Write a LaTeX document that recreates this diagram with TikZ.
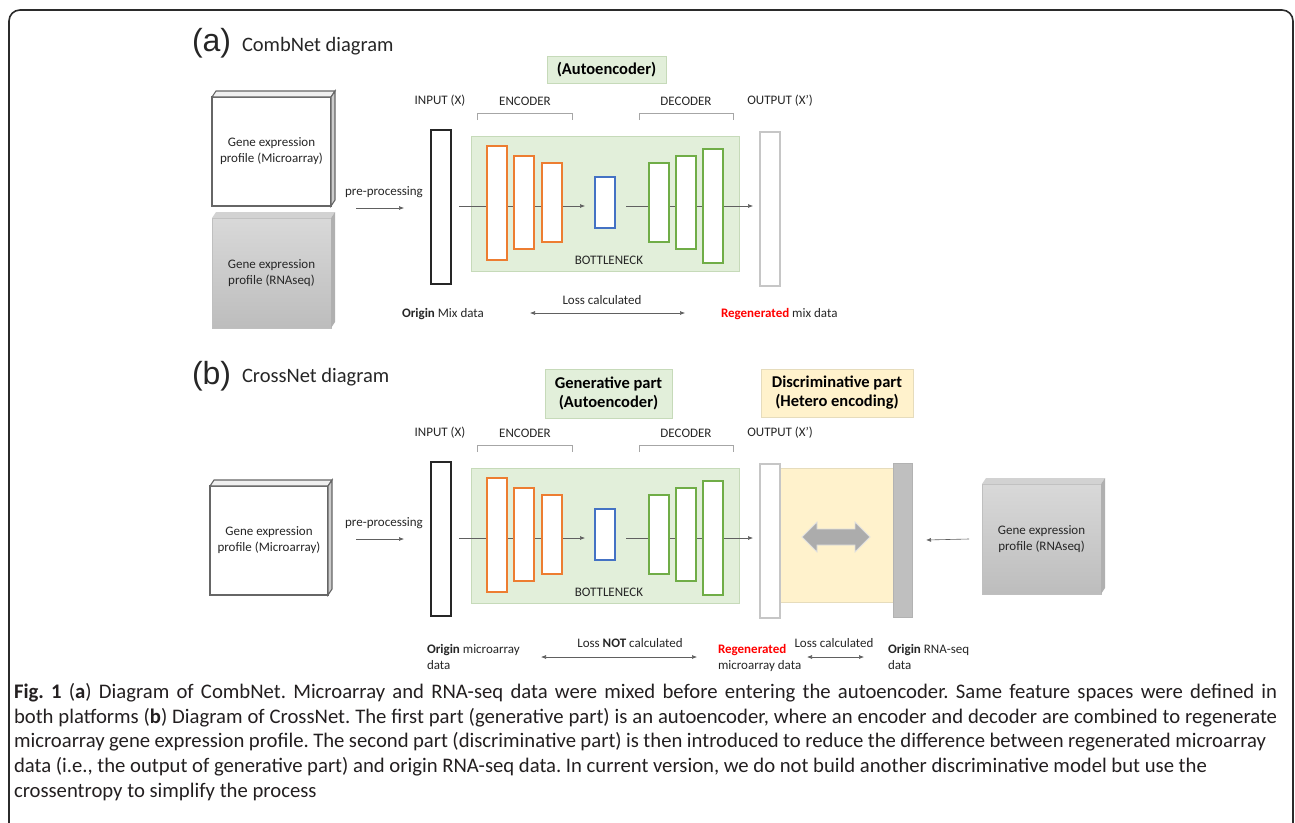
\documentclass[tikz,border=0pt]{standalone}
\usepackage{fontspec}
\setmainfont{Carlito}
\newfontfamily\arialf{Liberation Sans}
\usetikzlibrary{arrows.meta}
\pgfdeclarelayer{bg}\pgfdeclarelayer{mid}\pgfsetlayers{bg,mid,main}
\definecolor{aegreen}{HTML}{E2EFDA}
\definecolor{aegreenb}{HTML}{C6DAB9}
\definecolor{encor}{HTML}{ED7D31}
\definecolor{bnblue}{HTML}{4472C4}
\definecolor{decgr}{HTML}{70AD47}
\definecolor{yel}{HTML}{FFF2CC}
\definecolor{yelb}{HTML}{E6DCBC}
\definecolor{txt}{HTML}{262626}
\definecolor{regred}{HTML}{FF0000}
\definecolor{captxt}{HTML}{231F20}
\definecolor{framec}{HTML}{2B2B2B}
\frenchspacing
\newcommand\aeblock[2]{%
  \node[lbl] (#1inl) at (440,101+#2) {INPUT (X)};
  \node[lbl] (#1encl) at (525,101+#2) {ENCODER};
  \node[lbl] (#1decl) at (686,101+#2) {DECODER};
  \node[lbl] (#1outl) at (780,101+#2) {OUTPUT (X’)};
  \draw[brk] (477,120+#2) -- (477,113+#2) -- (572,113+#2) -- (572,120+#2);
  \draw[brk] (639,120+#2) -- (639,113+#2) -- (733,113+#2) -- (733,120+#2);
  \node[inbar, minimum height=154] (#1in) at (441,207+#2) {};
  \begin{pgfonlayer}{bg}
    \node[aebg, minimum width=268, minimum height=135] (#1bg) at (605,203.5+#2) {};
  \end{pgfonlayer}
  \node[encbar, minimum height=114] (#1e1) at (497,203+#2) {};
  \node[encbar, minimum height=93] (#1e2) at (524,202.5+#2) {};
  \node[encbar, minimum height=79] (#1e3) at (552,202.5+#2) {};
  \node[bnbar, minimum height=51] (#1bn) at (605,202.5+#2) {};
  \node[decbar, minimum height=79] (#1d1) at (659,202.5+#2) {};
  \node[decbar, minimum height=93] (#1d2) at (686,202.5+#2) {};
  \node[decbar, minimum height=114] (#1d3) at (713,206+#2) {};
  \node[outbar, minimum height=154] (#1out) at (770,209+#2) {};
  \node[lbl] (#1bnl) at (609,260+#2) {BOTTLENECK};
  \coordinate (#1l1) at (459,206+#2);
  \coordinate (#1l2) at (585,206+#2);
  \coordinate (#1l3) at (626,206+#2);
  \coordinate (#1l4) at (753,206+#2);
  \begin{pgfonlayer}{mid}
    \draw[conn] (#1l1) -- (#1l2);
    \draw[conn] (#1l3) -- (#1l4);
  \end{pgfonlayer}
}
\newcommand\boxfaces[3]{%
  \filldraw[#2] (#1.north west) -- ++(4,-6) -- ([shift={(4,-6)}]#1.north east) -- (#1.north east) -- cycle;
  \filldraw[#3] (#1.north east) -- ++(4,-6) -- ([shift={(4,-6)}]#1.south east) -- (#1.south east) -- cycle;
}
\newcommand\capline[2]{\hbox to #1pt{\frenchspacing #2}}
\begin{document}
\begin{tikzpicture}[x=1pt,y=-1pt,
  every node/.style={text=txt, inner sep=0pt, outer sep=0pt},
  lbl/.style={font=\fontsize{13}{16}\selectfont},
  hdr/.style={font=\bfseries\fontsize{16.5}{19}\selectfont, align=center, text=black},
  brk/.style={draw=gray!70, line width=0.8pt},
  inbar/.style={draw=txt, line width=1.4pt, fill=white, minimum width=20},
  outbar/.style={draw=gray!45, line width=1.3pt, fill=white, minimum width=20},
  encbar/.style={draw=encor, line width=1.2pt, fill=white, minimum width=20},
  bnbar/.style={draw=bnblue, line width=1.2pt, fill=white, minimum width=20},
  decbar/.style={draw=decgr, line width=1.2pt, fill=white, minimum width=20},
  aebg/.style={draw=aegreenb, line width=1pt, fill=aegreen},
  conn/.style={draw=gray!75!black, line width=0.6pt, -{Latex[length=5pt,width=4pt]}},
  dconn/.style={draw=gray!75!black, line width=0.6pt, {Latex[length=5pt,width=4pt]}-{Latex[length=5pt,width=4pt]}},
  wbox/.style={draw=gray!80!black, line width=1.1pt, fill=white, minimum width=119, minimum height=109, align=center, font=\fontsize{13}{16}\selectfont},
  gbox/.style={draw=gray!50, line width=0.6pt, top color=gray!30, bottom color=gray!52, minimum width=119, minimum height=110, align=center, font=\fontsize{13}{16}\selectfont},
  captionline/.style={anchor=base west, text=captxt, font=\fontsize{20.7}{25}\selectfont},
]
\useasboundingbox (0,0) rectangle (1295,822);
% outer frame
\draw[framec, line width=1.6pt, rounded corners=11pt] (9,840) -- (9,10) -- (1293,10) -- (1293,840);

% ---------------- panel (a)
\node[anchor=west] (ta) at (192,43) {\arialf\fontsize{32}{34}\selectfont (a)};
\node[anchor=west, font=\fontsize{20.5}{24}\selectfont] (tat) at (242,46) {CombNet diagram};
\node[hdr, draw=aegreenb, line width=1pt, fill=aegreen, minimum width=119, minimum height=27] (aeh) at (606.5,70) {(Autoencoder)};

\node[wbox] (am) at (271.5,151.5) {Gene expression\\profile (Microarray)};
\boxfaces{am}{draw=gray!80!black, line width=1.1pt, fill=gray!12}{draw=gray!80!black, line width=1.1pt, fill=gray!40}
\node[gbox] (ar) at (271.5,273) {Gene expression\\profile (RNAseq)};
\boxfaces{ar}{draw=none, fill=gray!35}{draw=none, fill=gray!62}

\node[lbl] (apre) at (384,192) {pre-processing};
\coordinate (apa) at (356,208);
\coordinate (apb) at (404,208);
\draw[conn] (apa) -- (apb);

\aeblock{a}{0}

\node[lbl, anchor=base west] (aorg) at (402,317) {\textbf{Origin} Mix data};
\node[lbl] (aloss) at (602,300) {Loss calculated};
\coordinate (ala) at (530,313);
\coordinate (alb) at (685,313);
\draw[dconn] (ala) -- (alb);
\node[lbl, anchor=base west] (areg) at (721,317) {\textcolor{regred}{\textbf{Regenerated}} mix data};

% ---------------- panel (b)
\node[anchor=west] (tb) at (192,376) {\arialf\fontsize{32}{34}\selectfont (b)};
\node[anchor=west, font=\fontsize{20.5}{24}\selectfont] (tbt) at (242,377) {CrossNet diagram};
\node[hdr, draw=aegreenb, line width=1pt, fill=aegreen, minimum width=127, minimum height=49] (genh) at (608.5,393.5) {Generative part\\(Autoencoder)};
\node[hdr, draw=yelb, line width=1pt, fill=yel, minimum width=152, minimum height=48] (disch) at (837,393) {Discriminative part\\(Hetero encoding)};

\node[wbox, minimum width=118] (bm) at (269,540.5) {Gene expression\\profile (Microarray)};
\boxfaces{bm}{draw=gray!80!black, line width=1.1pt, fill=gray!12}{draw=gray!80!black, line width=1.1pt, fill=gray!40}

\node[lbl] (bpre) at (384,523) {pre-processing};
\coordinate (bpa) at (356,539);
\coordinate (bpb) at (404,539);
\draw[conn] (bpa) -- (bpb);

\aeblock{b}{332}

% discriminative region
\begin{pgfonlayer}{bg}
  \node[draw=yelb, line width=0.8pt, fill=yel, minimum width=114, minimum height=134] (yreg) at (836,535) {};
\end{pgfonlayer}
\node[draw=gray!60, line width=0.8pt, fill=gray!50, minimum width=19, minimum height=154] (gbar) at (902.5,540) {};
\filldraw[draw=gray!25, line width=0.8pt, fill=gray!65] (802,537) -- (817,522) -- (817,529) -- (855,529) -- (855,522) -- (870,537) -- (855,552) -- (855,545) -- (817,545) -- (817,552) -- cycle;

\node[gbox] (br) at (1041.5,539) {Gene expression\\profile (RNAseq)};
\boxfaces{br}{draw=none, fill=gray!35}{draw=none, fill=gray!62}
\draw[conn] ([xshift=-13pt]br.west) -- ([xshift=14pt]gbar.east);

\node[lbl, anchor=base west] (borg1) at (427,653) {\textbf{Origin} microarray};
\node[lbl, anchor=base west] (borg2) at (427,669) {data};
\node[lbl] (bloss) at (630,643) {Loss \textbf{NOT} calculated};
\coordinate (bla) at (541,657);
\coordinate (blb) at (697,657);
\draw[dconn] (bla) -- (blb);
\node[lbl, anchor=base west] (breg1) at (718,653) {\textcolor{regred}{\textbf{Regenerated}}};
\node[lbl, anchor=base west] (breg2) at (718,669) {microarray data};
\node[lbl] (bloss2) at (834,643) {Loss calculated};
\coordinate (bra) at (807,657);
\coordinate (brb) at (864,657);
\draw[dconn] (bra) -- (brb);
\node[lbl, anchor=base west] (brs1) at (888,653) {\textbf{Origin} RNA-seq};
\node[lbl, anchor=base west] (brs2) at (888,669) {data};

% ---------------- caption
\node[captionline] (cap1) at (14,698) {\capline{1263}{\textbf{Fig. 1} (\textbf{a}) Diagram of CombNet. Microarray and RNA-seq data were mixed before entering the autoencoder. Same feature spaces were defined in}};
\node[captionline] (cap2) at (14,723) {\capline{1263}{both platforms (\textbf{b}) Diagram of CrossNet. The first part (generative part) is an autoencoder, where an encoder and decoder are combined to regenerate}};
\node[captionline] (cap3) at (14,747) {\capline{1252}{microarray gene expression profile. The second part (discriminative part) is then introduced to reduce the difference between regenerated microarray}};
\node[captionline] (cap4) at (14,772) {\capline{1193}{data (i.e., the output of generative part) and origin RNA-seq data. In current version, we do not build another discriminative model but use the}};
\node[captionline] (cap5) at (14,797) {crossentropy to simplify the process};
\end{tikzpicture}
\end{document}
